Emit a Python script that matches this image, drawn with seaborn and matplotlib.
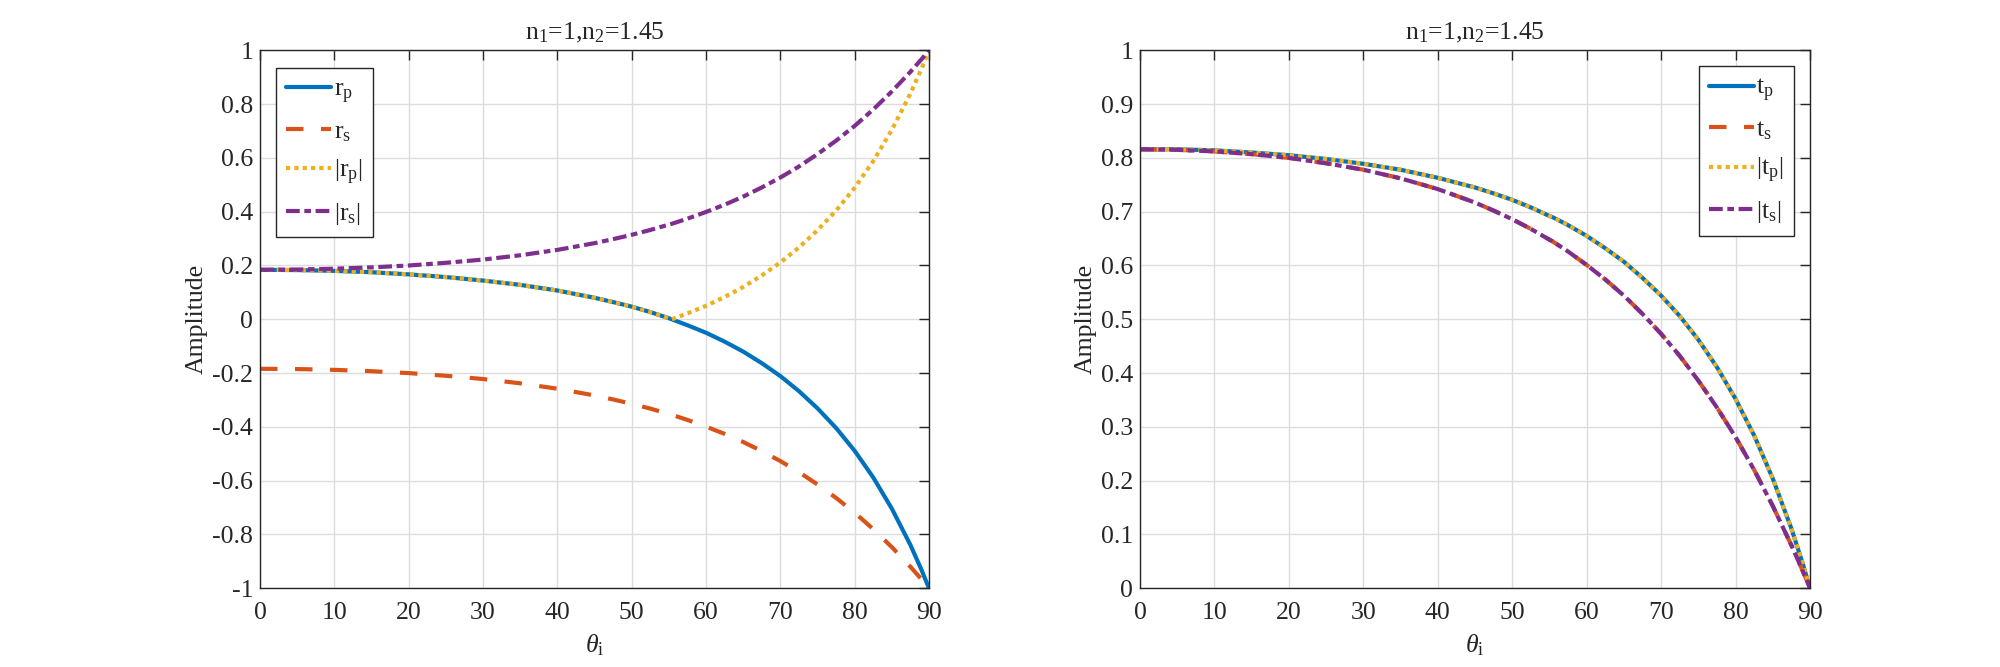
#!/usr/bin/env python3

import numpy as np
import pandas as pd
import matplotlib
matplotlib.use('Agg')
import matplotlib.pyplot as plt
from matplotlib.ticker import FuncFormatter
import seaborn as sns

# incidence angle (deg) and amplitudes
theta = [0, 5, 10, 15, 20, 25, 30, 35, 40, 45, 47.5, 50, 52.5, 55, 55.4,
         57.5, 60, 62.5, 65, 67.5, 70, 72.5, 75, 77.5, 80, 82.5, 85, 87.5,
         89, 90]
r_p = [0.184, 0.183, 0.180, 0.175, 0.167, 0.157, 0.144, 0.128, 0.107, 0.080,
       0.064, 0.047, 0.027, 0.004, 0.000, -0.022, -0.050, -0.083, -0.120,
       -0.163, -0.211, -0.267, -0.331, -0.404, -0.489, -0.588, -0.704,
       -0.839, -0.932, -1.0]
r_s = [-0.184, -0.185, -0.188, -0.193, -0.200, -0.210, -0.222, -0.238, -0.258,
       -0.283, -0.298, -0.314, -0.332, -0.352, -0.355, -0.374, -0.399, -0.426,
       -0.456, -0.490, -0.527, -0.568, -0.614, -0.664, -0.719, -0.780, -0.847,
       -0.920, -0.967, -1.0]
t_p = [0.816, 0.816, 0.814, 0.810, 0.805, 0.798, 0.789, 0.778, 0.763, 0.745,
       0.734, 0.722, 0.708, 0.692, 0.690, 0.675, 0.655, 0.632, 0.607, 0.577,
       0.544, 0.506, 0.462, 0.411, 0.352, 0.284, 0.204, 0.111, 0.047, 0.0]
t_s = [0.816, 0.815, 0.812, 0.807, 0.800, 0.790, 0.778, 0.762, 0.742, 0.717,
       0.702, 0.686, 0.668, 0.648, 0.645, 0.626, 0.601, 0.574, 0.544, 0.510,
       0.473, 0.432, 0.386, 0.336, 0.281, 0.220, 0.153, 0.080, 0.033, 0.0]

title_text = r'n$_\mathrm{1}$=1,n$_\mathrm{2}$=1.45'
xlabel_text = r'$\theta_\mathrm{i}$'

# matlab default colours
BLUE, RED, YELLOW, PURPLE = '#0072BD', '#D95319', '#EDB120', '#7E2F8E'
DARK = '#262626'
FS = 18.5

sns.set_theme(style='white')
plt.rcParams['font.family'] = ['Liberation Serif', 'DejaVu Serif']
plt.rcParams['mathtext.fontset'] = 'custom'
plt.rcParams['mathtext.rm'] = 'Liberation Serif'
plt.rcParams['mathtext.it'] = 'Liberation Serif:italic'
plt.rcParams['axes.unicode_minus'] = False
plt.rcParams['font.size'] = FS

LW = 3.0
styles = [
    dict(color=BLUE, linestyle='-'),
    dict(color=RED, linestyle=(0, (4.2, 4.2))),
    dict(color=YELLOW, linestyle=(0, (1, 1))),
    dict(color=PURPLE, linestyle=(0, (3.3, 1.1, 1.6, 1.1))),
]


def style_axes(ax, yticks):
    ax.set_xlim(0, 90)
    ax.set_xticks(np.arange(0, 91, 10))
    ax.set_yticks(yticks)
    ax.yaxis.set_major_formatter(FuncFormatter(lambda v, p: f'{round(v, 1) + 0:g}'))
    ax.grid(True, color='#dcdcdc', linewidth=1.0)
    ax.set_axisbelow(True)
    for s in ax.spines.values():
        s.set_color(DARK)
        s.set_linewidth(1.0)
    ax.tick_params(direction='in', length=7, width=1.0, colors=DARK,
                   labelsize=FS, top=True, right=True, pad=5,
                   labelcolor=DARK)
    ax.tick_params(axis='x', pad=10)
    ax.set_xlabel(xlabel_text, fontsize=FS, color=DARK, labelpad=6)
    ax.set_ylabel('Amplitude', fontsize=FS, color=DARK, labelpad=3)
    ax.set_title(title_text, fontsize=FS, color=DARK, pad=8)


def draw(ax, series, labels):
    df = pd.DataFrame({'theta': theta})
    for vals, lab, st in zip(series, labels, styles):
        sns.lineplot(x=df['theta'], y=vals, ax=ax, label=lab, linewidth=LW,
                     dash_capstyle='butt', **st)


fig = plt.figure(figsize=(20, 6.67), dpi=100)
ax1 = fig.add_axes([0.130, 0.118, 0.3345, 0.8066])
ax2 = fig.add_axes([0.570, 0.118, 0.3350, 0.8066])

draw(ax1, [np.array(r_p), np.array(r_s), np.abs(r_p), np.abs(r_s)],
     [r'r$_\mathrm{p}$', r'r$_\mathrm{s}$', r'|r$_\mathrm{p}$|', r'|r$_\mathrm{s}$|'])
ax1.set_ylim(-1, 1)
style_axes(ax1, np.round(np.arange(-1, 1.01, 0.2), 1))

draw(ax2, [np.array(t_p), np.array(t_s), np.abs(t_p), np.abs(t_s)],
     [r't$_\mathrm{p}$', r't$_\mathrm{s}$', r'|t$_\mathrm{p}$|', r'|t$_\mathrm{s}$|'])
ax2.set_ylim(0, 1)
style_axes(ax2, np.round(np.arange(0, 1.01, 0.1), 1))

leg_kw = dict(fontsize=FS, frameon=True, fancybox=False, borderaxespad=0,
              handlelength=1.75, handletextpad=0.1, labelspacing=0.55,
              borderpad=0.4, framealpha=1)
for ax, loc, anchor in [(ax1, 'upper left', (0.024, 0.967)),
                        (ax2, 'upper right', (0.976, 0.970))]:
    leg = ax.legend(loc=loc, bbox_to_anchor=anchor, **leg_kw)
    leg.get_frame().set_edgecolor(DARK)
    leg.get_frame().set_linewidth(1.0)
    for t in leg.get_texts():
        t.set_color(DARK)

fig.savefig('out.png', dpi=100, facecolor='white')
